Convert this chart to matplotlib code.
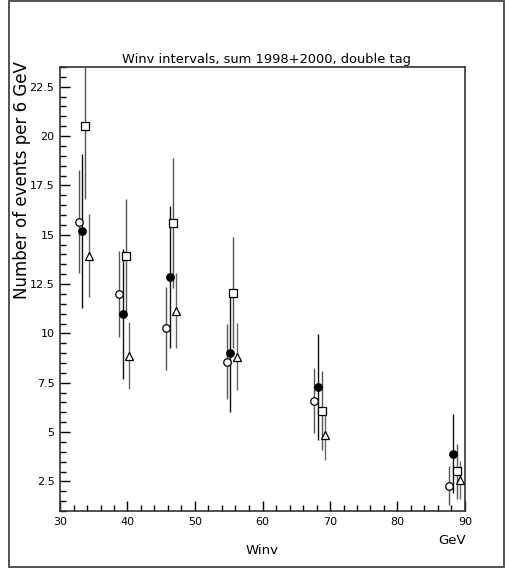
import matplotlib
matplotlib.use("Agg")
import matplotlib.pyplot as plt
from matplotlib.patches import Rectangle
from matplotlib.ticker import MultipleLocator

# Data
x_open = [32.77, 38.7, 45.7, 54.7, 67.68, 87.7]
y_open = [15.67, 12.0, 10.26, 8.57, 6.59, 2.28]
e_open = [2.6, 2.2, 2.1, 1.9, 1.65, 1.0]

x_fill = [33.2, 39.3, 46.25, 55.2, 68.2, 88.2]
y_fill = [15.18, 11.0, 12.88, 9.0, 7.29, 3.9]
e_fill = [3.9, 3.3, 3.6, 3.0, 2.7, 2.0]

x_sq = [33.75, 39.78, 46.7, 55.7, 68.77, 88.77]
y_sq = [20.49, 13.9, 15.59, 12.07, 6.09, 3.01]
e_sq = [3.7, 2.9, 3.3, 2.8, 2.0, 1.4]

x_tri = [34.25, 40.2, 47.2, 56.2, 69.3, 89.26]
y_tri = [13.93, 8.86, 11.16, 8.82, 4.85, 2.57]
e_tri = [2.1, 1.7, 1.9, 1.7, 1.25, 0.95]

ytick_vals = [2.5, 5, 7.5, 10, 12.5, 15, 17.5, 20, 22.5]
ytick_labels = ["2.5", "5", "7.5", "10", "12.5", "15", "17.5", "20", "22.5"]

W, H = 506, 569
fig = plt.figure(figsize=(W / 100, H / 100), dpi=100)

ax_l, ax_r, ax_t, ax_b = 60, 465, 67, 511
ax = fig.add_axes([ax_l / W, 1 - ax_b / H, (ax_r - ax_l) / W, (ax_b - ax_t) / H])

ms = 5.4
common = dict(linestyle="none", elinewidth=1.0, capsize=0, zorder=3)
ax.errorbar(x_open, y_open, yerr=e_open, fmt="o", mfc="white", mec="black",
            mew=0.9, ms=ms, ecolor="#555555", **common)
ax.errorbar(x_fill, y_fill, yerr=e_fill, fmt="o", mfc="black", mec="black",
            mew=0.9, ms=ms, ecolor="#111111", **common)
ax.errorbar(x_sq, y_sq, yerr=e_sq, fmt="s", mfc="white", mec="black",
            mew=0.9, ms=ms, ecolor="#555555", **common)
ax.errorbar(x_tri, y_tri, yerr=e_tri, fmt="^", mfc="white", mec="black",
            mew=0.9, ms=ms + 0.6, ecolor="#666666", **common)

ax.set_xlim(30, 90)
ax.set_ylim(1, 23.5)
ax.xaxis.set_major_locator(MultipleLocator(10))
ax.xaxis.set_minor_locator(MultipleLocator(2))
ax.yaxis.set_minor_locator(MultipleLocator(0.5))
ax.set_yticks(ytick_vals)
ax.set_yticklabels(ytick_labels)
ax.tick_params(which="both", direction="in", top=False, right=False,
               labelsize=8, color="black", width=1.0, pad=4)
ax.tick_params(which="major", length=7)
ax.tick_params(which="minor", length=4)
for s in ax.spines.values():
    s.set_linewidth(1.2)
    s.set_color("#333333")

fig.text(266 / W, 1 - 60 / H, "Winv intervals, sum 1998+2000, double tag",
         ha="center", va="center", fontsize=9.4)
fig.text(262 / W, 1 - 551 / H, "Winv", ha="center", va="center", fontsize=9.5)
fig.text(452 / W, 1 - 540 / H, "GeV", ha="center", va="center", fontsize=9.5)
fig.text(22 / W, 1 - 180 / H, "Number of events per 6 GeV", ha="center",
         va="center", rotation=90, fontsize=12)

fig.patches.append(Rectangle((9 / W, 1 - 567 / H), (504 - 9) / W, (567 - 1) / H,
                             transform=fig.transFigure, fill=False,
                             edgecolor="#444444", linewidth=1.3))

fig.savefig("out.png", dpi=100)
